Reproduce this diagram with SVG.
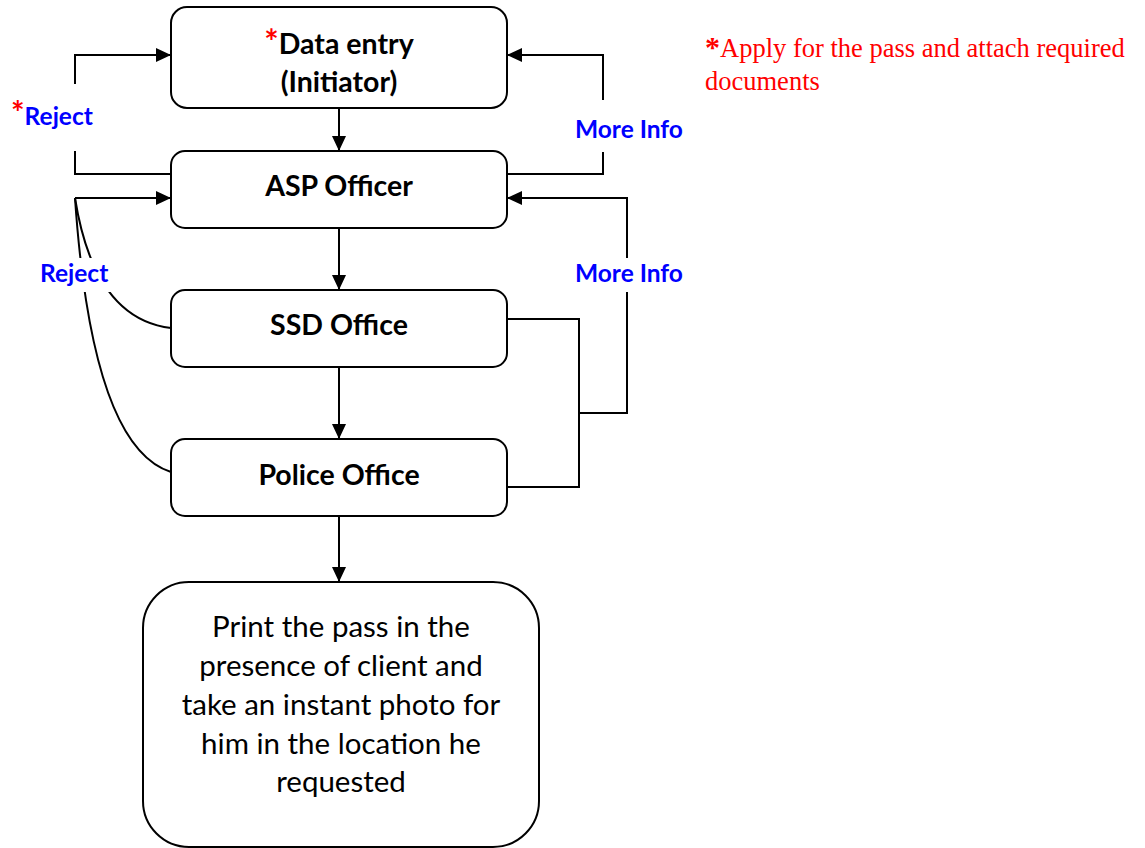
<svg xmlns="http://www.w3.org/2000/svg" width="1145" height="848" viewBox="0 0 1145 848">
<style>
.box{fill:#fff;stroke:#000;stroke-width:2}
.ln{fill:none;stroke:#000;stroke-width:2}
.t{font-family:Lato,"Open Sans",sans-serif;font-weight:bold;font-size:28.5px;fill:#000;text-anchor:middle}
.r{font-family:Lato,"Open Sans",sans-serif;font-size:29.5px;fill:#000;text-anchor:middle}
.lbl{font-family:Lato,"Open Sans",sans-serif;font-weight:bold;font-size:24.5px;fill:#0000ff}
.ast{fill:#ff0000}
.note{font-family:"Liberation Serif",serif;font-size:26.5px;fill:#ff0000}
</style>
<defs>
<marker id="ah" markerUnits="userSpaceOnUse" markerWidth="16" markerHeight="16" viewBox="0 0 16 16" refX="15" refY="8" orient="auto">
<path d="M0,1 L15,8 L0,15 Z" fill="#000"/>
</marker>
</defs>
<g id="connectors">
<line class="ln" x1="339" y1="108" x2="339" y2="151" marker-end="url(#ah)"/>
<line class="ln" x1="339" y1="228" x2="339" y2="290" marker-end="url(#ah)"/>
<line class="ln" x1="339" y1="367" x2="339" y2="439" marker-end="url(#ah)"/>
<line class="ln" x1="339" y1="516" x2="339" y2="582" marker-end="url(#ah)"/>
<path class="ln" d="M171,174 H75 V151"/>
<path class="ln" d="M75,84 V55 H171" marker-end="url(#ah)"/>
<path class="ln" d="M507,174 H603 V152"/>
<path class="ln" d="M603,100 V55 H507" marker-end="url(#ah)"/>
<path class="ln" d="M171,328 C120,322 88,280 75,198"/>
<path class="ln" d="M171,472 C108,452 84,330 75,198"/>
<path class="ln" d="M75,198 H171" marker-end="url(#ah)"/>
<path class="ln" d="M507,319 H579 V487 H507"/>
<path class="ln" d="M579,413 H627 V198 H507" marker-end="url(#ah)"/>
<rect x="36" y="258" width="76" height="34" fill="#fff"/>
<rect x="570" y="258" width="120" height="34" fill="#fff"/>
<text class="lbl" x="11" y="125"><tspan class="ast" font-size="32">*</tspan>Reject</text>
<text class="lbl" x="575" y="138">More Info</text>
<text class="lbl" x="40" y="282">Reject</text>
<text class="lbl" x="575" y="282">More Info</text>
</g>
<g id="data-entry">
<rect class="box" x="171" y="7" width="336" height="101" rx="16"/>
<text class="t" x="339" y="54"><tspan class="ast" font-size="34">*</tspan>Data entry</text>
<text class="t" x="339" y="92">(Initiator)</text>
</g>
<g id="asp-officer">
<rect class="box" x="171" y="151" width="336" height="77" rx="14"/>
<text class="t" x="339" y="196">ASP Officer</text>
</g>
<g id="ssd-office">
<rect class="box" x="171" y="290" width="336" height="77" rx="14"/>
<text class="t" x="339" y="335">SSD Office</text>
</g>
<g id="police-office">
<rect class="box" x="171" y="439" width="336" height="77" rx="14"/>
<text class="t" x="339" y="485">Police Office</text>
</g>
<g id="print-pass">
<rect class="box" x="143" y="582" width="396" height="265" rx="46"/>
<text class="r" x="341" y="637">Print the pass in the</text>
<text class="r" x="341" y="676">presence of client and</text>
<text class="r" x="341" y="715">take an instant photo for</text>
<text class="r" x="341" y="754">him in the location he</text>
<text class="r" x="341" y="792">requested</text>
</g>
<g id="note">
<text class="note" x="705" y="57"><tspan font-weight="bold" font-size="30">*</tspan>Apply for the pass and attach required</text>
<text class="note" x="705" y="90">documents</text>
</g>
</svg>
